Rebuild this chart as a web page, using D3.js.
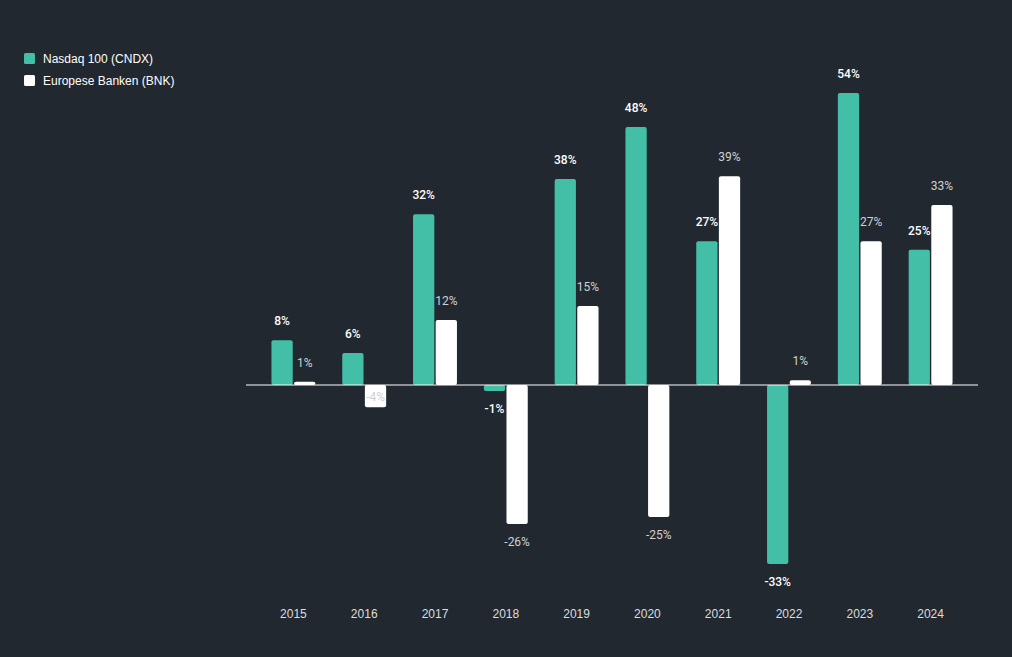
<!DOCTYPE html>
<html><head><meta charset="utf-8">
<script src="https://cdn.jsdelivr.net/npm/d3@7"></script>
<style>html,body{margin:0;padding:0;background:#212830;}svg{display:block;}</style>
</head><body>
<svg id="c" width="1012" height="657"></svg>
<script>
const years = ["2015","2016","2017","2018","2019","2020","2021","2022","2023","2024"];
const seriesNames = ["Nasdaq 100 (CNDX)", "Europese Banken (BNK)"];
const nasdaq = [8.3, 5.9, 31.6, -1.1, 38.1, 47.7, 26.6, -33.1, 54.0, 25.0];
const banks  = [0.6, -4.1, 12.0, -25.7, 14.6, -24.4, 38.6, 0.9, 26.6, 33.3];
const nasdaqLabels = ["8%","6%","32%","-1%","38%","48%","27%","-33%","54%","25%"];
const banksLabels  = ["1%","-4%","12%","-26%","15%","-25%","39%","1%","27%","33%"];

const colors = ["#43bfa8", "#ffffff"];
const labelColors = ["#ffffff", "#d0d0d0"];
const svg = d3.select("#c");
svg.append("rect").attr("width",1012).attr("height",657).attr("fill","#212830");

const x0 = d3.scaleBand().domain(years).range([258, 966]).paddingInner(0.38).paddingOuter(0.19);
const x1 = d3.scaleBand().domain([0,1]).range([0, x0.bandwidth()]).paddingInner(0.06);
const y = d3.scaleLinear().domain([-33.1, 54]).range([564, 93]);

const data = [nasdaq, banks];
const labels = [nasdaqLabels, banksLabels];

const g = svg.append("g");
data.forEach((vals, s) => {
  const sg = g.append("g");
  vals.forEach((v, i) => {
    const top = y(Math.max(v, 0)), bot = y(Math.min(v, 0));
    sg.append("rect")
      .attr("x", x0(years[i]) + x1(s))
      .attr("y", top)
      .attr("width", x1.bandwidth())
      .attr("height", Math.max(bot - top, 0))
      .attr("rx", 2).attr("ry", 2)
      .attr("fill", colors[s]);
  });
});

// zero line
svg.append("line")
  .attr("x1", 246).attr("x2", 978)
  .attr("y1", y(0)).attr("y2", y(0))
  .attr("stroke", "#ffffff").attr("stroke-width", 1);

// value labels
data.forEach((vals, s) => {
  vals.forEach((v, i) => {
    let ty;
    if (v >= 0) ty = y(v) - 19;
    else if (v > -5 && s === 1) ty = y(0) + 12;
    else ty = y(v) + 18;
    svg.append("text")
      .attr("x", x0(years[i]) + x1(s) + x1.bandwidth()/2)
      .attr("y", ty)
      .attr("dy", "0.35em")
      .attr("text-anchor", "middle")
      .attr("font-family", "Roboto, 'Noto Sans', sans-serif")
      .attr("font-size", 12)
      .attr("font-weight", s === 0 ? 500 : 400)
      .attr("fill", labelColors[s])
      .text(labels[s][i]);
  });
});

// x axis labels
const xAxis = d3.axisBottom(x0).tickSize(0).tickPadding(0);
const ax = svg.append("g").attr("transform", "translate(0,609)").call(xAxis);
ax.select(".domain").remove();
ax.selectAll("text")
  .attr("font-family", "'Liberation Sans', Arial, sans-serif")
  .attr("font-size", 12)
  .attr("fill", "#dddddd");

// legend
const leg = svg.append("g");
seriesNames.forEach((n, s) => {
  const gy = 53 + s * 22;
  leg.append("rect").attr("x", 24).attr("y", gy).attr("width", 11).attr("height", 11)
    .attr("rx", 1.5).attr("fill", colors[s]);
  leg.append("text").attr("x", 43).attr("y", gy + 5.5).attr("dy", "0.35em")
    .attr("font-family", "'Liberation Sans', Arial, sans-serif")
    .attr("font-size", 12).attr("fill", "#ffffff").text(n);
});
</script>
</body></html>
